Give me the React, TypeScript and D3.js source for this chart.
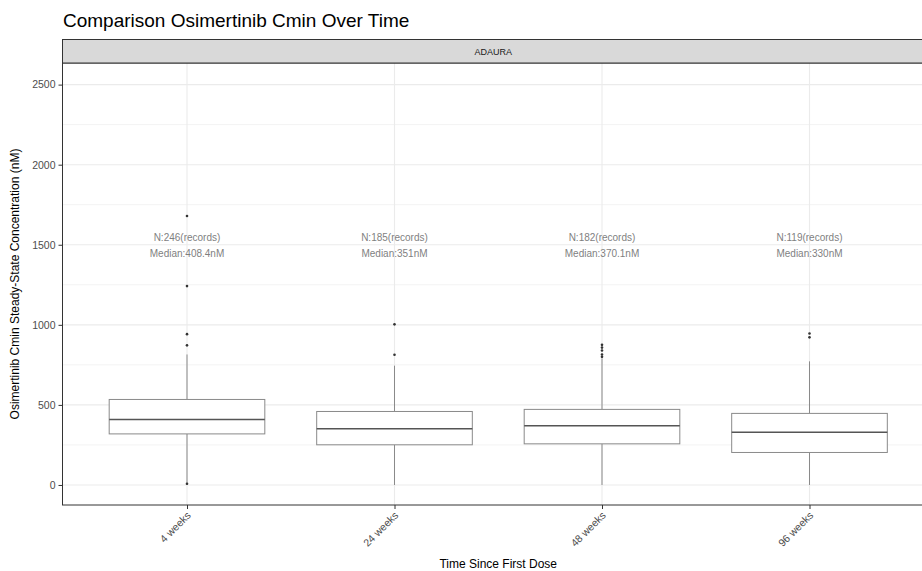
import React, { useRef, useEffect } from 'react';
import * as d3 from 'd3';

// Chart data
const categories = ['4 weeks', '24 weeks', '48 weeks', '96 weeks'];
const nRecords = [246, 185, 182, 119];
const medianLabels = ['408.4', '351', '370.1', '330'];
const medians = [408.4, 351, 370.1, 330];
const q1 = [319, 251, 257, 203];
const q3 = [534, 459, 472, 447];
const whiskerLow = [0, 0, 0, 0];
const whiskerHigh = [815, 745, 790, 772];
const outliers = [
  [1680, 1242, 942, 872, 8],
  [1003, 813],
  [800, 815, 840, 858, 875],
  [922, 946],
];
const yTicks = [0, 500, 1000, 1500, 2000, 2500];
const yMinorTicks = [250, 750, 1250, 1750, 2250];
const facetLabel = 'ADAURA';

const W = 922;
const H = 571;
const FONT = '"Liberation Sans", Arial, sans-serif';

const App = () => {
  const svgRef = useRef<SVGSVGElement | null>(null);

  useEffect(() => {
    if (!svgRef.current) return;
    const svg = d3.select(svgRef.current);
    svg.selectAll('*').remove();

    // panel box (right side runs past the image edge, as in the reference)
    const panel = { left: 62.5, right: 934, top: 63, bottom: 505 };
    const stripTop = 39.5;

    const x = d3
      .scalePoint<string>()
      .domain(categories)
      .range([panel.left, panel.right])
      .padding(0.6);
    const step = x.step();
    const boxW = step * 0.75;

    const y = d3.scaleLinear().domain([-125, 2635]).range([panel.bottom, panel.top]);

    // title
    svg
      .append('text')
      .attr('x', 63)
      .attr('y', 27)
      .attr('fill', '#000')
      .style('font-family', FONT)
      .style('font-size', '19px')
      .text('Comparison Osimertinib Cmin Over Time');

    // panel background
    svg
      .append('rect')
      .attr('x', panel.left)
      .attr('y', panel.top)
      .attr('width', panel.right - panel.left)
      .attr('height', panel.bottom - panel.top)
      .attr('fill', '#fff');

    // grid
    const grid = svg.append('g');
    yMinorTicks.forEach((v) => {
      grid
        .append('line')
        .attr('x1', panel.left)
        .attr('x2', panel.right)
        .attr('y1', y(v))
        .attr('y2', y(v))
        .attr('stroke', '#f3f3f3')
        .attr('stroke-width', 1);
    });
    yTicks.forEach((v) => {
      grid
        .append('line')
        .attr('x1', panel.left)
        .attr('x2', panel.right)
        .attr('y1', y(v))
        .attr('y2', y(v))
        .attr('stroke', '#ebebeb')
        .attr('stroke-width', 1.1);
    });
    categories.forEach((c) => {
      grid
        .append('line')
        .attr('x1', x(c)!)
        .attr('x2', x(c)!)
        .attr('y1', panel.top)
        .attr('y2', panel.bottom)
        .attr('stroke', '#ebebeb')
        .attr('stroke-width', 1.1);
    });

    // boxplots
    const boxes = svg.append('g');
    categories.forEach((c, i) => {
      const cx = x(c)!;
      boxes
        .append('line')
        .attr('x1', cx)
        .attr('x2', cx)
        .attr('y1', y(q3[i]))
        .attr('y2', y(whiskerHigh[i]))
        .attr('stroke', '#8a8a8a')
        .attr('stroke-width', 1);
      boxes
        .append('line')
        .attr('x1', cx)
        .attr('x2', cx)
        .attr('y1', y(q1[i]))
        .attr('y2', y(whiskerLow[i]))
        .attr('stroke', '#8a8a8a')
        .attr('stroke-width', 1);
      boxes
        .append('rect')
        .attr('x', cx - boxW / 2)
        .attr('y', y(q3[i]))
        .attr('width', boxW)
        .attr('height', y(q1[i]) - y(q3[i]))
        .attr('fill', '#fff')
        .attr('stroke', '#8a8a8a')
        .attr('stroke-width', 1);
      boxes
        .append('line')
        .attr('x1', cx - boxW / 2)
        .attr('x2', cx + boxW / 2)
        .attr('y1', y(medians[i]))
        .attr('y2', y(medians[i]))
        .attr('stroke', '#555')
        .attr('stroke-width', 1.5);
      outliers[i].forEach((v) => {
        boxes
          .append('circle')
          .attr('cx', cx)
          .attr('cy', y(v))
          .attr('r', 1.3)
          .attr('fill', '#333');
      });

      // annotations
      boxes
        .append('text')
        .attr('x', cx)
        .attr('y', 241)
        .attr('text-anchor', 'middle')
        .attr('fill', '#7f7f7f')
        .style('font-family', FONT)
        .style('font-size', '10px')
        .text(`N:${nRecords[i]}(records)`);
      boxes
        .append('text')
        .attr('x', cx)
        .attr('y', 257)
        .attr('text-anchor', 'middle')
        .attr('fill', '#7f7f7f')
        .style('font-family', FONT)
        .style('font-size', '10px')
        .text(`Median:${medianLabels[i]}nM`);
    });

    // panel border
    svg
      .append('rect')
      .attr('x', panel.left)
      .attr('y', panel.top)
      .attr('width', panel.right - panel.left)
      .attr('height', panel.bottom - panel.top)
      .attr('fill', 'none')
      .attr('stroke', '#333')
      .attr('stroke-width', 1);

    // facet strip
    svg
      .append('rect')
      .attr('x', panel.left)
      .attr('y', stripTop)
      .attr('width', panel.right - panel.left)
      .attr('height', panel.top - stripTop)
      .attr('fill', '#d9d9d9')
      .attr('stroke', '#333')
      .attr('stroke-width', 1);
    svg
      .append('text')
      .attr('x', (panel.left + panel.right) / 2 - 5)
      .attr('y', (stripTop + panel.top) / 2 + 3.5)
      .attr('text-anchor', 'middle')
      .attr('fill', '#1a1a1a')
      .style('font-family', FONT)
      .style('font-size', '9px')
      .text(facetLabel);

    // y axis
    const yAxisG = svg
      .append('g')
      .attr('transform', `translate(${panel.left},0)`)
      .call(
        d3
          .axisLeft(y)
          .tickValues(yTicks)
          .tickFormat(d3.format('d'))
          .tickSize(4)
          .tickPadding(3)
      );
    yAxisG.select('.domain').remove();
    yAxisG.selectAll('.tick line').attr('stroke', '#333');
    yAxisG
      .selectAll('text')
      .attr('fill', '#4d4d4d')
      .style('font-family', FONT)
      .style('font-size', '10.5px');

    // x axis
    const xAxisG = svg
      .append('g')
      .attr('transform', `translate(0,${panel.bottom})`)
      .call(d3.axisBottom(x).tickSize(4).tickPadding(2));
    xAxisG.select('.domain').remove();
    xAxisG.selectAll('.tick line').attr('stroke', '#333');
    xAxisG
      .selectAll('text')
      .attr('fill', '#4d4d4d')
      .attr('y', 0)
      .attr('dy', 0)
      .attr('transform', 'translate(4,11) rotate(-45)')
      .style('text-anchor', 'end')
      .style('font-family', FONT)
      .style('font-size', '10.5px');

    // axis titles
    svg
      .append('text')
      .attr('x', (panel.left + panel.right) / 2)
      .attr('y', 568)
      .attr('text-anchor', 'middle')
      .attr('fill', '#000')
      .style('font-family', FONT)
      .style('font-size', '12px')
      .text('Time Since First Dose');
    svg
      .append('text')
      .attr('transform', `translate(19,${(panel.top + panel.bottom) / 2}) rotate(-90)`)
      .attr('text-anchor', 'middle')
      .attr('fill', '#000')
      .style('font-family', FONT)
      .style('font-size', '12px')
      .text('Osimertinib Cmin Steady-State Concentration (nM)');

    return () => {
      svg.selectAll('*').remove();
    };
  }, []);

  return (
    <svg
      ref={svgRef}
      width={W}
      height={H}
      viewBox={`0 0 ${W} ${H}`}
      style={{ position: 'absolute', left: 0, top: 0, display: 'block', background: '#fff' }}
    />
  );
};

export default App;
